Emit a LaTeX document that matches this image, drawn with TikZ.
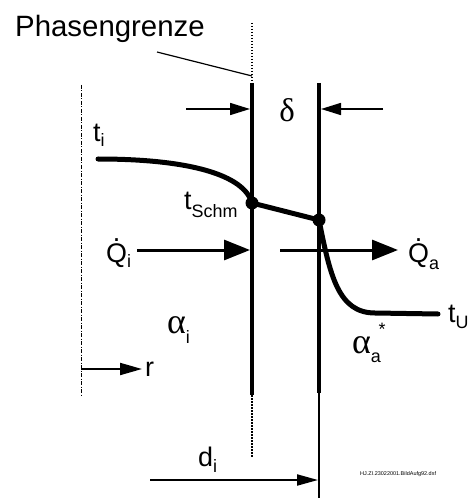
\documentclass[tikz,border=0pt]{standalone}
\usepackage{fontspec}
\setmainfont{Liberation Sans}
\newfontfamily\grfont{Liberation Serif}
\newfontfamily\sansfont{Liberation Sans}
\usetikzlibrary{arrows.meta}
% label with a lowered index
\newcommand\idx[3][6bp]{#2\raisebox{-#1}{\fontsize{18}{18}\sansfont #3}}
% Q with a dot for heat flow
\newcommand\dotQ{\vbox{\offinterlineskip\halign{\hfil##\hfil\cr .\cr\noalign{\kern2bp}Q\cr}}}
\tikzset{
  wall/.style={line width=4bp},
  bigarrow/.style={line width=3bp,-{Triangle[length=26bp,width=20bp]}},
  dimarrow/.style={line width=1.6bp,-{Triangle[length=20bp,width=12bp]}},
  lab/.style={inner sep=0pt,anchor=base west,font=\fontsize{27}{30}\selectfont},
  greek/.style={inner sep=0pt,anchor=base west,font=\fontsize{36}{38}\grfont},
}
\begin{document}
\begin{tikzpicture}[x=1bp,y=-1bp,line join=round]
  \useasboundingbox (0,0) rectangle (471,498);
  % walls
  \coordinate (pg top) at (252,23);
  \coordinate (wi top) at (252,83);
  \coordinate (wi bot) at (252,395);
  \coordinate (pg bot) at (252,457);
  \coordinate (wa top) at (319,83);
  \coordinate (wa bot) at (319,393);
  \coordinate (wa end) at (319,498);
  \coordinate (ax top) at (81,85);
  \coordinate (ax bot) at (81,395);
  \draw[line width=1.2bp,dash pattern=on 1.5bp off 1.5bp] (pg top) -- (wi top);
  \draw[line width=1.2bp,dash pattern=on 1.5bp off 1.5bp] (wi bot) -- (pg bot);
  \draw[line width=1bp,dash pattern=on 4bp off 1.5bp on 1bp off 1.5bp] (ax top) -- (ax bot);
  \draw[wall] (wi top) -- (wi bot);
  \draw[wall] (wa top) -- (wa bot);
  \draw[line width=1.2bp] (wa bot) -- (wa end);
  % Phasengrenze
  \node[lab,font=\fontsize{29.5}{32}\selectfont] (pg) at (15,37) {Phasengrenze};
  \coordinate (lead) at (157,52);
  \coordinate (lead end) at (252,76);
  \draw[line width=1.2bp] (lead) -- (lead end);
  % delta
  \coordinate (dl) at (186,109);
  \coordinate (dl end) at (250,109);
  \coordinate (dr) at (383,109);
  \coordinate (dr end) at (321,109);
  \draw[dimarrow] (dl) -- (dl end);
  \draw[dimarrow] (dr) -- (dr end);
  \node[inner sep=0pt,font=\fontsize{33}{35}\grfont] (delta) at (287,110) {δ};
  % temperature profile
  \coordinate (ti start) at (98,159);
  \coordinate (schm) at (252,203);
  \coordinate (wa pt) at (319,220);
  \coordinate (tu end) at (438,314);
  \draw[line width=5bp,line cap=round] (ti start) .. controls (190,159) and (244,175) .. (schm)
    -- (wa pt) .. controls (330,275) and (338,313) .. (375,313) -- (tu end);
  \fill (schm) circle (6.5bp);
  \fill (wa pt) circle (6.5bp);
  % heat flow
  \coordinate (qi start) at (137,250);
  \coordinate (qi end) at (250,250);
  \coordinate (qa start) at (280,250);
  \coordinate (qa end) at (398,250);
  \draw[bigarrow] (qi start) -- (qi end);
  \draw[bigarrow] (qa start) -- (qa end);
  % radius and diameter
  \coordinate (r start) at (81,369);
  \coordinate (r end) at (142,369);
  \coordinate (d start) at (150,480);
  \coordinate (d end) at (318,480);
  \draw[line width=2bp,-{Triangle[length=22bp,width=12bp]}] (r start) -- (r end);
  \draw[line width=2bp,-{Triangle[length=21bp,width=11bp]}] (d start) -- (d end);
  % labels
  \node[lab] (ti) at (93,142) {\idx[5bp]{t}{i}};
  \node[lab] (tschm) at (184,209) {\idx[8bp]{t}{Schm}};
  \node[lab] (qi) at (106,262) {\idx[5bp]{\dotQ}{i}};
  \node[lab] (qa) at (408,262) {\idx[7bp]{\dotQ}{a}};
  \node[lab] (tu) at (448,322) {\idx{t}{U}};
  \node[lab] (r) at (145,376) {r};
  \node[lab] (di) at (198,466) {\idx[6bp]{d}{i}};
  \node[greek] (ai) at (167,333) {\idx[10bp]{α}{i}};
  \node[greek] (aa) at (352,353) {\idx[9bp]{α}{a}};
  \node[inner sep=0pt,font=\fontsize{18}{18}\selectfont] (astar) at (382,329) {*};
  \node[inner sep=0pt,anchor=west,font=\fontsize{5.5}{6}\selectfont] (file) at (360,474) {HJ.ZI.23022001.BildAufg92.dsf};
\end{tikzpicture}
\end{document}
